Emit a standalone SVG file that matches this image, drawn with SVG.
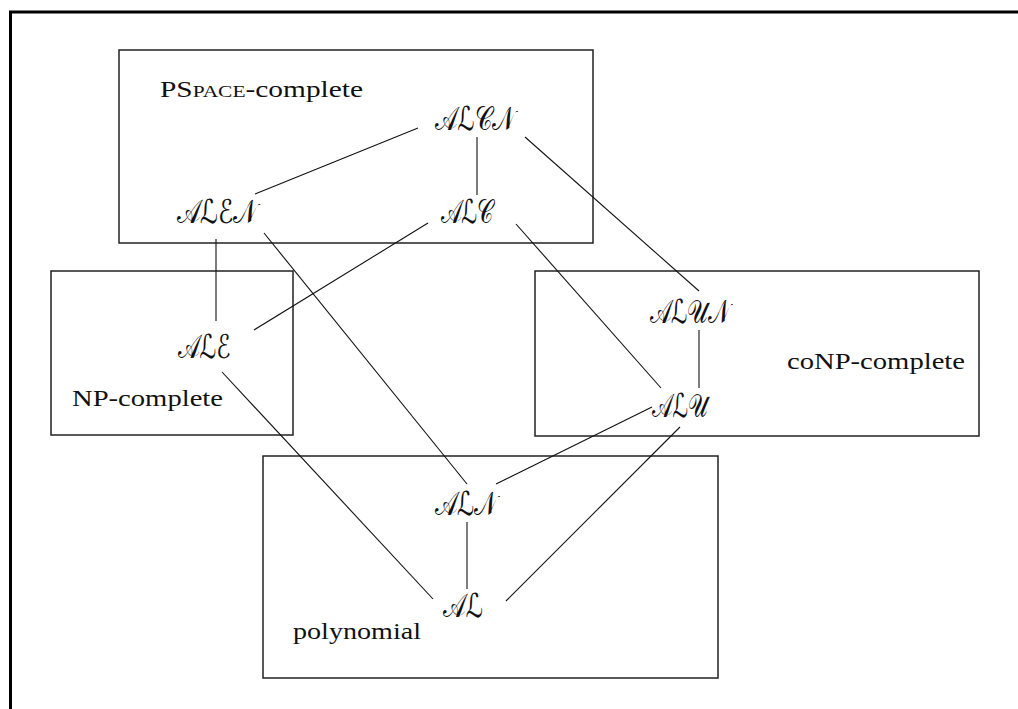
<svg xmlns="http://www.w3.org/2000/svg" width="1018" height="709" viewBox="0 0 1018 709">
<style>
.box{fill:none;stroke:#222;stroke-width:1.5}
.lbl{font-family:"Liberation Serif",serif;font-size:24px;fill:#111}
.sc{font-size:17.5px}
.dl{font-family:"DejaVu Serif","DejaVu Sans","Noto Sans",serif;font-size:33px;fill:#111;text-anchor:middle}
.edge{stroke:#111;stroke-width:1.1;fill:none}
</style>
<rect width="1018" height="709" fill="#fff"/>
<path d="M10.5,709 V12 H1018" fill="none" stroke="#000" stroke-width="3"/>
<g id="pspace">
<rect class="box" x="119" y="50" width="474" height="193"/>
<text class="lbl" x="160" y="97" textLength="203" lengthAdjust="spacingAndGlyphs">PS<tspan class="sc">PACE</tspan>-complete</text>
</g>
<g id="np">
<rect class="box" x="51" y="271" width="242" height="164"/>
<text class="lbl" x="72" y="406" textLength="151" lengthAdjust="spacingAndGlyphs">NP-complete</text>
</g>
<g id="conp">
<rect class="box" x="535" y="271" width="444" height="165"/>
<text class="lbl" x="787" y="369" textLength="178" lengthAdjust="spacingAndGlyphs">coNP-complete</text>
</g>
<g id="poly">
<rect class="box" x="263" y="456" width="455" height="222"/>
<text class="lbl" x="293" y="639" textLength="128" lengthAdjust="spacingAndGlyphs">polynomial</text>
</g>
<g id="edges">
<line class="edge" x1="255" y1="194" x2="418" y2="128"/>
<line class="edge" x1="477" y1="137" x2="477" y2="195"/>
<line class="edge" x1="525" y1="137" x2="699" y2="291"/>
<line class="edge" x1="216" y1="239" x2="216" y2="321"/>
<line class="edge" x1="264" y1="233" x2="467" y2="484"/>
<line class="edge" x1="428" y1="223" x2="254" y2="330"/>
<line class="edge" x1="516" y1="224" x2="661" y2="388"/>
<line class="edge" x1="699" y1="330" x2="699" y2="388"/>
<line class="edge" x1="222" y1="372" x2="433" y2="599"/>
<line class="edge" x1="652" y1="407" x2="496" y2="484"/>
<line class="edge" x1="680" y1="427" x2="506" y2="601"/>
<line class="edge" x1="467" y1="522" x2="467" y2="589"/>
</g>
<g id="ALCN"><text class="dl" x="475" y="130" textLength="80" lengthAdjust="spacingAndGlyphs">𝒜ℒ𝒞𝒩</text></g>
<g id="ALC"><text class="dl" x="467" y="223" textLength="53" lengthAdjust="spacingAndGlyphs">𝒜ℒ𝒞</text></g>
<g id="ALEN"><text class="dl" x="217" y="223" textLength="81" lengthAdjust="spacingAndGlyphs">𝒜ℒℰ𝒩</text></g>
<g id="ALE"><text class="dl" x="204" y="358" textLength="53" lengthAdjust="spacingAndGlyphs">𝒜ℒℰ</text></g>
<g id="ALUN"><text class="dl" x="690" y="323" textLength="81" lengthAdjust="spacingAndGlyphs">𝒜ℒ𝒰𝒩</text></g>
<g id="ALU"><text class="dl" x="680" y="417" textLength="56" lengthAdjust="spacingAndGlyphs">𝒜ℒ𝒰</text></g>
<g id="ALN"><text class="dl" x="466" y="515" textLength="63" lengthAdjust="spacingAndGlyphs">𝒜ℒ𝒩</text></g>
<g id="AL"><text class="dl" x="463" y="617" textLength="40" lengthAdjust="spacingAndGlyphs">𝒜ℒ</text></g>
</svg>
